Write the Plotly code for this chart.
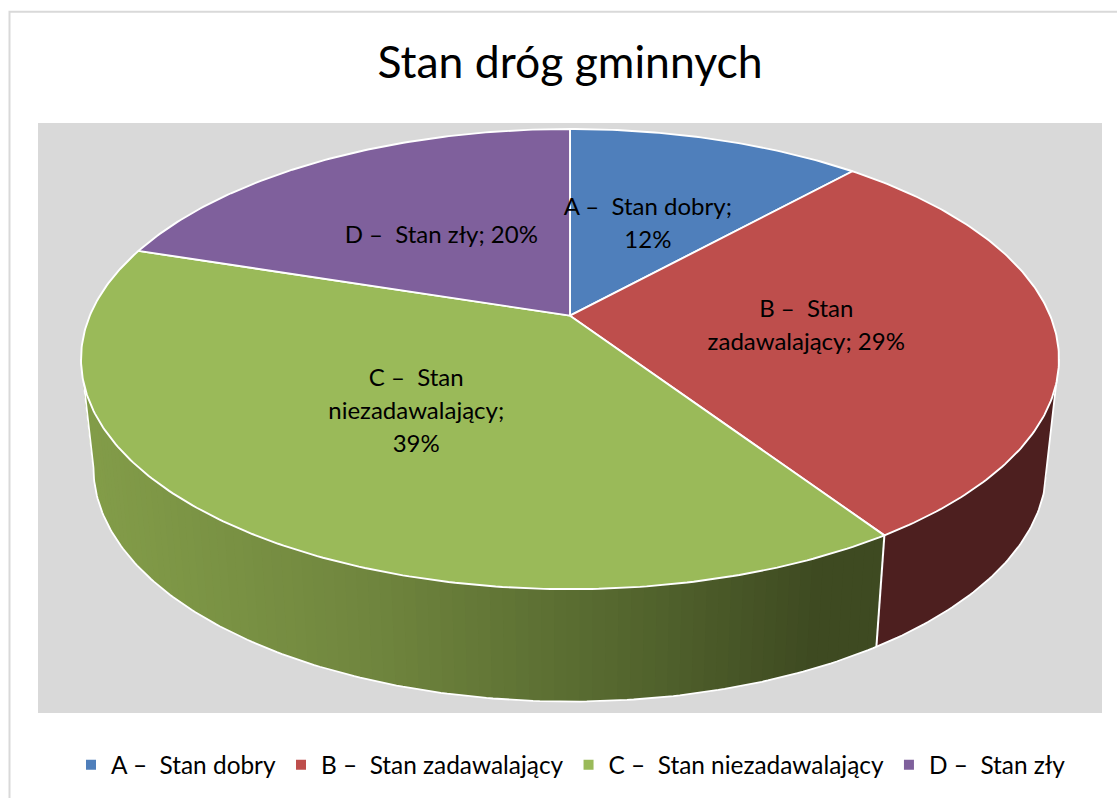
import math
import plotly.graph_objects as go

# ---- data ----
title_text = "Stan dróg gminnych"
categories = ["A –  Stan dobry", "B –  Stan zadawalający", "C –  Stan niezadawalający", "D –  Stan zły"]
values = [11.7, 29.0, 39.3, 20.0]
percent_labels = ["12%", "29%", "39%", "20%"]
label_lines = [
    ["A –  Stan dobry;", "12%"],
    ["B –  Stan", "zadawalający; 29%"],
    ["C –  Stan", "niezadawalający;", "39%"],
    ["D –  Stan zły; 20%"],
]
top_colors = ["#4F7FBB", "#BE4E4C", "#9ABA59", "#7F609C"]
red_side = "#4D1F1F"
green_stops = [(85, (131, 157, 73)), (350, (112, 134, 62)), (600, (84, 102, 46)), (790, (62, 74, 33)), (884, (62, 74, 33))]

# ---- page / projection geometry ----
W, H = 1117, 798
PL, PR, PT, PB = 38, 1102, 123, 714
CX, CY = 570, 316
P = 0.1887
TOP = dict(R=480.2, H=222.3, cy=CY)
BOT = dict(R=468.0, H=226.0, cy=424.0)
FONT = "Lato, Carlito, Calibri, sans-serif"
LABEL_SIZE = 24
LEGEND_SIZE = 24.4
LINE_STEP = 33
LABEL_DY = 3.5


def project(theta, level=TOP, r=1.0):
    t = math.radians(theta)
    x, y = r * math.sin(t), r * math.cos(t)
    w = 1 + P * y
    return CX + level["R"] * x / w, level["cy"] - level["H"] * y / w


def arc(a, b, level=TOP, n=None):
    n = n or max(2, int(abs(b - a) * 1.5))
    pts = [project(a + (b - a) * i / n, level) for i in range(n + 1)]
    return pts


def green_at(x):
    for (x0, c0), (x1, c1) in zip(green_stops, green_stops[1:]):
        if x <= x1:
            f = max(0, (x - x0) / (x1 - x0))
            return "rgb(%d,%d,%d)" % tuple(round(u + (v - u) * f) for u, v in zip(c0, c1))
    return "rgb(%d,%d,%d)" % green_stops[-1][1]


total = sum(values)
edges = [0.0]
for v in values:
    edges.append(edges[-1] + v / total * 360)

fig = go.Figure()


def poly(pts, fill, line_color, width):
    fig.add_trace(go.Scatter(
        x=[p[0] for p in pts], y=[p[1] for p in pts], mode="lines", fill="toself",
        fillcolor=fill, line=dict(color=line_color, width=width),
        hoverinfo="skip", showlegend=False))


def polyline(pts, color, width):
    fig.add_trace(go.Scatter(
        x=[p[0] for p in pts], y=[p[1] for p in pts], mode="lines",
        line=dict(color=color, width=width), hoverinfo="skip", showlegend=False))


# ---- side wall ----
side_start = 90 + math.degrees(math.asin(P))
side_end = 360 - side_start
bc = edges[2]
poly(arc(side_start, bc) + arc(bc, side_start, BOT), red_side, red_side, 0)
STRIPS = 90
step = (side_end - bc) / STRIPS
# drawn from the dark end towards the light end, each strip overlapping the previous one
for i in range(STRIPS):
    a = bc + step * i
    b = min(side_end, a + step)
    a0 = max(bc, a - 2 * step)
    pts = arc(a0, b, TOP, 6) + arc(b, a0, BOT, 6)
    col = green_at((project(a, BOT)[0] + project(b, BOT)[0]) / 2)
    poly(pts, col, col, 0)

# outline of the wall
polyline([project(side_start, TOP)] + arc(side_start, side_end, BOT) + [project(side_end, TOP)], "white", 1.8)
polyline([project(bc, TOP), project(bc, BOT)], "white", 2)

# ---- top face ----
apex = (CX, CY)
for i, col in enumerate(top_colors):
    pts = [apex] + arc(edges[i], edges[i + 1]) + [apex]
    poly(pts, col, "white", 1.9)

# ---- data labels ----
lx, ly, lt = [], [], []
for i, lines in enumerate(label_lines):
    mid = (edges[i] + edges[i + 1]) / 2
    px, py = project(mid, TOP, 0.49)
    for j, s in enumerate(lines):
        lx.append(px)
        ly.append(py + LABEL_DY + (j - (len(lines) - 1) / 2) * LINE_STEP)
        lt.append(s)
fig.add_trace(go.Scatter(
    x=lx, y=ly, text=lt, mode="text", textposition="middle center",
    textfont=dict(family=FONT, size=LABEL_SIZE, color="#000000"),
    hoverinfo="skip", showlegend=False))

# ---- legend entries ----
for name, col in zip(categories, top_colors):
    fig.add_trace(go.Scatter(
        x=[None], y=[None], mode="markers", name=name,
        marker=dict(symbol="square", size=10, color=col)))

to_px = lambda v: (v - PL) / (PR - PL)
fig.add_shape(type="rect", xref="paper", yref="paper", layer="below",
              x0=to_px(9.5), x1=to_px(1300), y0=1 + (PT - 11.5) / (PB - PT), y1=-1,
              line=dict(color="#D9D9D9", width=2), fillcolor="rgba(0,0,0,0)")

fig.update_layout(
    width=W, height=H, autosize=False,
    margin=dict(l=PL, r=W - PR, t=PT, b=H - PB, pad=0),
    paper_bgcolor="white", plot_bgcolor="#D9D9D9",
    font=dict(family=FONT, color="#000000"),
    title=dict(text=title_text, x=570 / W, xanchor="center", y=1 - 62 / H, yanchor="middle",
               font=dict(family=FONT, size=44.5, color="#000000")),
    xaxis=dict(range=[PL, PR], visible=False, fixedrange=True),
    yaxis=dict(range=[PB, PT], visible=False, fixedrange=True),
    legend=dict(orientation="h", x=to_px(71), xanchor="left", y=-(765 - PB) / (PB - PT), yanchor="middle",
                font=dict(family=FONT, size=LEGEND_SIZE, color="#000000"), bgcolor="rgba(0,0,0,0)",
                itemsizing="trace", traceorder="normal"),
    showlegend=True,
)

fig.write_html("out.html", config={"displayModeBar": False},
               post_script="document.body.style.margin='0';document.body.style.overflow='hidden';")
